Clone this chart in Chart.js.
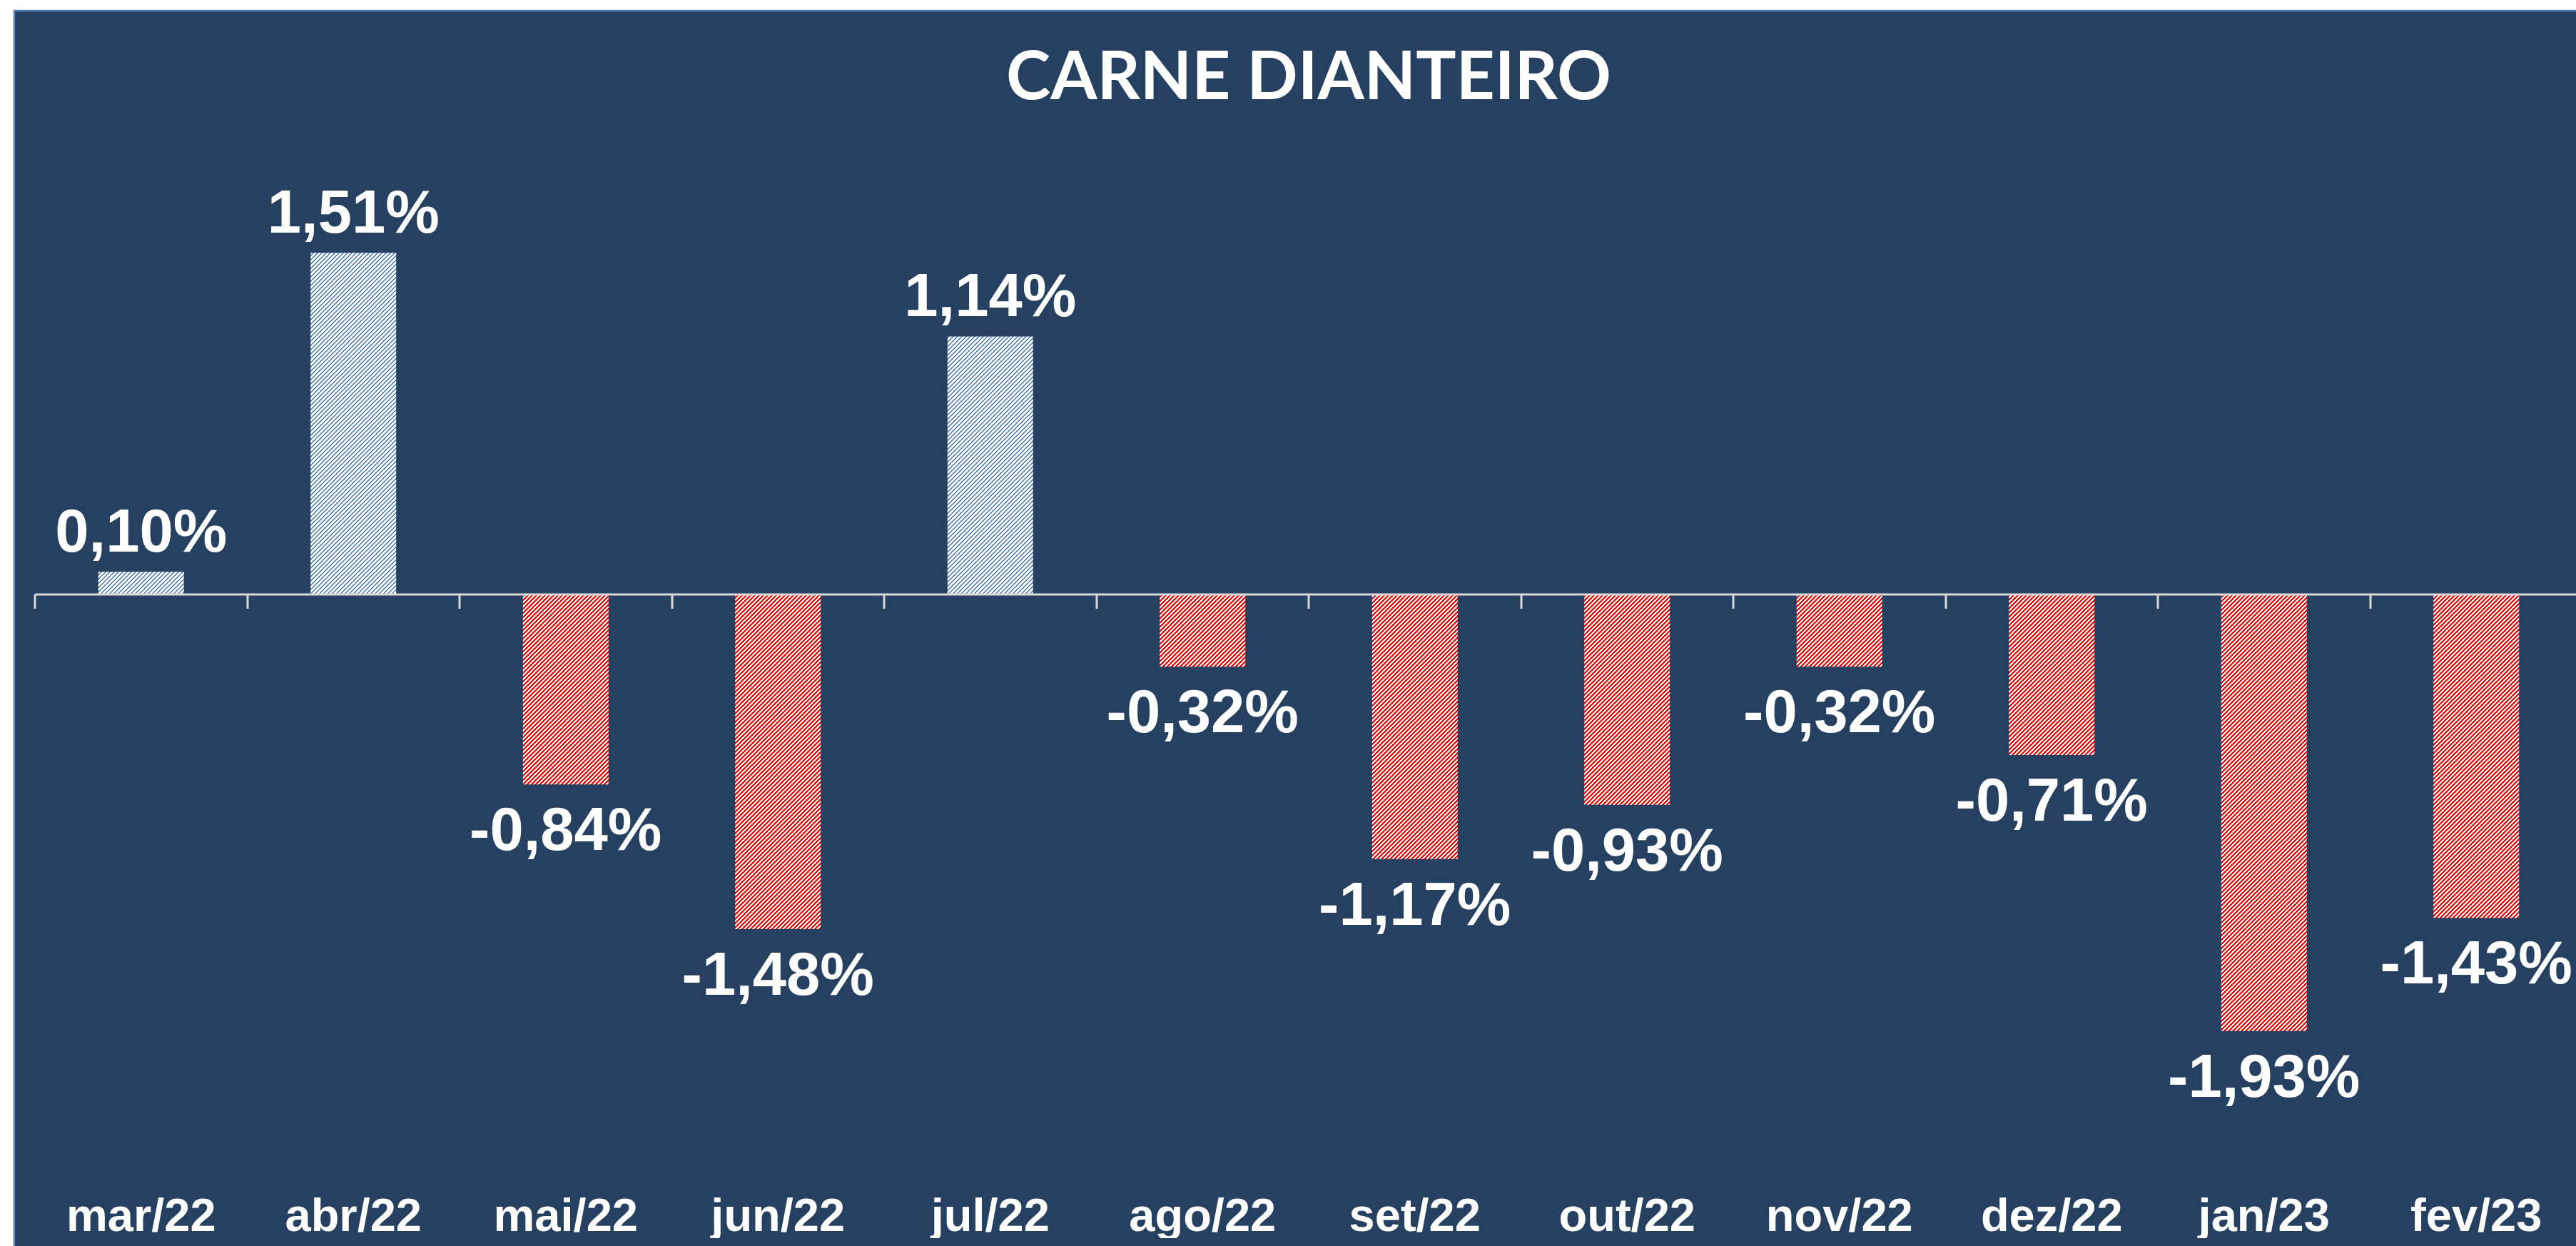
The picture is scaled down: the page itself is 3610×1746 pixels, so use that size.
<!DOCTYPE html>
<html>
<head>
<meta charset="utf-8">
<title>Carne Dianteiro</title>
<script src="https://cdn.jsdelivr.net/npm/chart.js@4.4.0/dist/chart.umd.min.js"></script>
<style>
  html, body { margin: 0; padding: 0; background: #ffffff; overflow: hidden; }
  #wrap { width: 3666px; height: 1746px; }
</style>
</head>
<body>
<div id="wrap"><canvas id="carneChart" width="3666" height="1746"></canvas></div>
<script>
// Dados do gráfico
const chartTitle = 'CARNE DIANTEIRO';
const months = ['mar/22', 'abr/22', 'mai/22', 'jun/22', 'jul/22', 'ago/22',
                'set/22', 'out/22', 'nov/22', 'dez/22', 'jan/23', 'fev/23'];
const variation = [0.10, 1.51, -0.84, -1.48, 1.14, -0.32, -1.17, -0.93, -0.32, -0.71, -1.93, -1.43];
const yMin = -2.5;
const yMax = 2.0;

const PANEL_BG = '#264061';
const PANEL_BORDER = '#4f81bd';

// hachura diagonal (/) em blocos de pixel, como no Excel
function makeHatch(lineColor, period, thickness) {
  const c = document.createElement('canvas');
  c.width = period; c.height = period;
  const g = c.getContext('2d');
  g.fillStyle = '#ffffff';
  g.fillRect(0, 0, period, period);
  g.fillStyle = lineColor;
  for (let y = 0; y < period; y++) {
    for (let x = 0; x < period; x++) {
      if ((x + y) % period < thickness) g.fillRect(x, y, 1, 1);
    }
  }
  return g.createPattern(c, 'repeat');
}

const bluePattern = makeHatch('#4a7ebb', 6, 2);
const redPattern = makeHatch('#ff0000', 6, 3);

const panelBackground = {
  id: 'panelBackground',
  beforeDraw(chart) {
    const ctx = chart.ctx;
    ctx.save();
    ctx.fillStyle = '#ffffff';
    ctx.fillRect(0, 0, chart.width, chart.height);
    ctx.fillStyle = PANEL_BG;
    ctx.fillRect(20, 15, chart.width - 20, chart.height - 15);
    ctx.strokeStyle = PANEL_BORDER;
    ctx.lineWidth = 2.5;
    ctx.beginPath();
    ctx.moveTo(20, chart.height);
    ctx.lineTo(20, 15);
    ctx.lineTo(chart.width, 15);
    ctx.stroke();
    ctx.restore();
  }
};

// eixo no zero com marcas entre categorias
const zeroAxis = {
  id: 'zeroAxis',
  afterDatasetsDraw(chart) {
    const { ctx, scales: { x, y } } = chart;
    const y0 = y.getPixelForValue(0);
    const half = (x.getPixelForValue(1) - x.getPixelForValue(0)) / 2;
    ctx.save();
    ctx.strokeStyle = '#d9d9d9';
    ctx.lineWidth = 3;
    ctx.beginPath();
    ctx.moveTo(x.getPixelForValue(0) - half, y0);
    ctx.lineTo(chart.width, y0);
    for (let i = 0; i <= months.length; i++) {
      const px = Math.round(x.getPixelForValue(i) - half);
      ctx.moveTo(px, y0);
      ctx.lineTo(px, y0 + 20);
    }
    ctx.stroke();
    ctx.restore();
  }
};

const valueLabels = {
  id: 'valueLabels',
  afterDatasetsDraw(chart) {
    const ctx = chart.ctx;
    const meta = chart.getDatasetMeta(0);
    ctx.save();
    ctx.font = 'bold 85px "Liberation Sans", Arial, sans-serif';
    ctx.fillStyle = '#ffffff';
    ctx.textAlign = 'center';
    ctx.textBaseline = 'alphabetic';
    meta.data.forEach((bar, i) => {
      const v = variation[i];
      const txt = v.toFixed(2).replace('.', ',') + '%';
      const ty = v >= 0 ? bar.y - 28 : bar.y + 92;
      ctx.fillText(txt, bar.x, ty);
    });
    ctx.restore();
  }
};

new Chart(document.getElementById('carneChart'), {
  type: 'bar',
  data: {
    labels: months,
    datasets: [{
      data: variation,
      backgroundColor: variation.map(v => v >= 0 ? bluePattern : redPattern),
      borderWidth: 0,
      categoryPercentage: 1,
      barPercentage: 0.403
    }]
  },
  options: {
    responsive: false,
    animation: false,
    devicePixelRatio: 1,
    layout: { padding: { left: 49, right: 47, top: 15, bottom: 11 } },
    plugins: {
      legend: { display: false },
      tooltip: { enabled: false },
      title: {
        display: true,
        text: chartTitle,
        color: '#ffffff',
        font: { family: 'Lato', size: 94, weight: 'bold', lineHeight: 1.2 },
        padding: { top: 37, bottom: 34 }
      }
    },
    scales: {
      x: {
        grid: { display: false, drawTicks: false },
        border: { display: false },
        ticks: {
          color: '#ffffff',
          font: { family: 'Liberation Sans', size: 65, weight: 'bold', lineHeight: 1 },
          padding: 49,
          maxRotation: 0,
          autoSkip: false
        },
        afterFit(scale) { scale.height = 109.5; }
      },
      y: { display: false, min: yMin, max: yMax }
    }
  },
  plugins: [panelBackground, zeroAxis, valueLabels]
});
</script>
</body>
</html>
